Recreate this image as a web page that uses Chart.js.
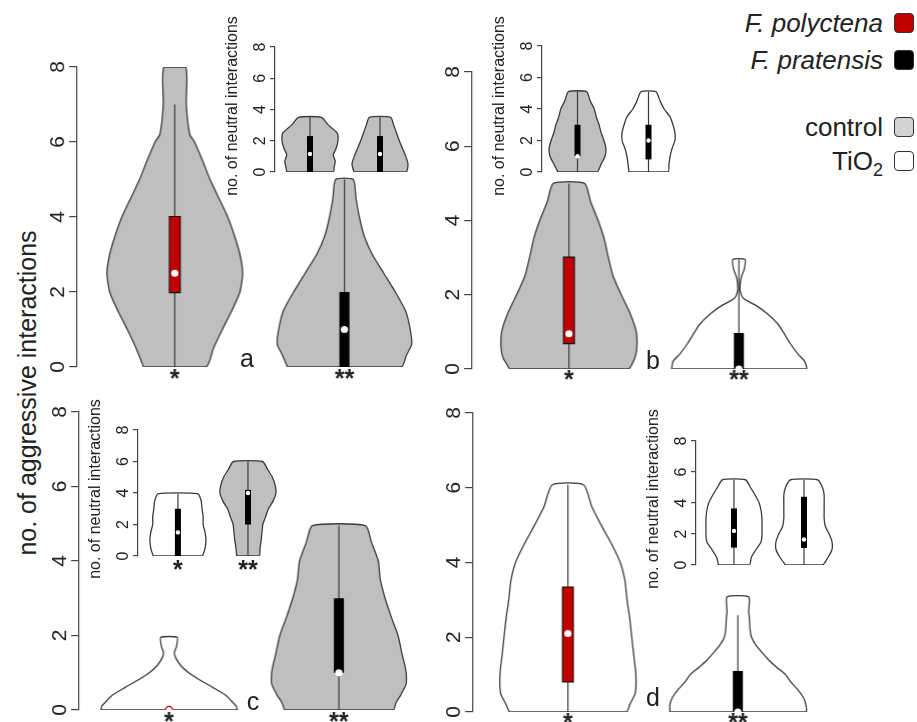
<!DOCTYPE html>
<html>
<head>
<meta charset="utf-8">
<script src="https://cdn.jsdelivr.net/npm/chart.js@4.4.1/dist/chart.umd.min.js"></script>
<style>
body{margin:0;background:#fff;width:917px;height:722px;overflow:hidden;position:relative;font-family:"Liberation Sans",Arial,sans-serif;color:#222}
.lab{position:absolute;white-space:nowrap;transform:translate(-50%,-50%)}
.rot{position:absolute;white-space:nowrap;transform:translate(-50%,-50%) rotate(-90deg)}
.leg{position:absolute;right:34px;font-size:26px;line-height:30px;white-space:nowrap}
.sq{position:absolute;left:894px;width:18px;height:18px;border:1.3px solid #333;border-radius:4px}
</style>
</head>
<body>
<div class="rot" style="left:27px;top:393px;font-size:25px">no. of aggressive interactions</div>
<div id="legend"></div>
<script>
// legend entries
const species = ['F. polyctena', 'F. pratensis'];
const speciesCol = ['#c00000', '#000000'];
const treatments = ['control', 'TiO<sub style="font-size:18px">2</sub>'];
const treatCol = ['#d3d3d3', '#ffffff'];
const panelLetters = ['a', 'b', 'c', 'd'];
const insetTitle = 'no. of neutral interactions';

const GREY = '#bfbfbf', WHITE = '#ffffff', RED = '#c00000', BLACK = '#000000', LINE = '#3a3a3a';

// ---- main plots: count levels and relative violin width (1 = widest) ----
// a: F. polyctena control / F. pratensis control
const a1Lv = [0, 0.5, 1, 1.5, 2, 2.5, 3, 3.5, 4, 4.5, 5, 5.5, 6, 6.2, 7, 8];
const a1W  = [0.46, 0.57, 0.70, 0.84, 0.96, 1.0, 0.96, 0.88, 0.78, 0.65, 0.52, 0.41, 0.29, 0.22, 0.17, 0.16];
const a1Box = [0, 2, 2.5, 4, 7];           // whisker low, q1, median, q3, whisker high
const a2Lv = [0, 0.3, 0.6, 1, 1.5, 2, 2.5, 3, 3.5, 4, 4.5, 5];
const a2W  = [0.84, 0.91, 0.99, 0.97, 0.90, 0.75, 0.58, 0.41, 0.29, 0.22, 0.17, 0.13];
const a2Box = [0, 0, 1, 2, 5];
// b: F. polyctena control / F. pratensis TiO2
const b1Lv = [0, 0.3, 0.6, 1, 1.5, 2, 2.5, 3, 3.5, 4, 4.5, 5];
const b1W  = [0.87, 0.97, 1.0, 0.99, 0.90, 0.77, 0.65, 0.58, 0.52, 0.43, 0.32, 0.23];
const b1Box = [0, 0.7, 0.95, 3, 5];
const b2Lv = [0, 0.2, 0.4, 0.7, 1, 1.2, 1.5, 1.7, 1.9, 2.1, 2.3, 2.5, 2.7, 2.95];
const b2W  = [0.99, 0.97, 0.87, 0.75, 0.65, 0.58, 0.41, 0.26, 0.07, 0.02, 0.02, 0.04, 0.08, 0.09];
const b2Box = [0, 0, 0, 0.97, 2.95];
// c: F. polyctena TiO2 / F. pratensis control
const c1Lv = [0, 0.1, 0.2, 0.4, 0.6, 0.8, 1, 1.2, 1.4, 1.55, 1.7, 1.95];
const c1W  = [1.0, 0.99, 0.94, 0.83, 0.65, 0.46, 0.29, 0.17, 0.10, 0.08, 0.11, 0.12];
const c1Box = [0, 0, 0, 0, 0];
const c2Lv = [0, 0.2, 0.4, 0.7, 1, 1.2, 1.5, 2, 2.5, 3, 3.5, 4, 4.5, 4.95];
const c2W  = [0.80, 0.84, 0.91, 0.99, 0.99, 0.97, 0.93, 0.87, 0.77, 0.68, 0.61, 0.58, 0.48, 0.39];
const c2Box = [0, 1, 1, 3, 4.95];
// d: F. polyctena TiO2 / F. pratensis TiO2
const d1Lv = [0, 0.2, 0.5, 1, 1.5, 2, 2.5, 3, 3.5, 4, 4.5, 5, 5.5, 6.08];
const d1W  = [0.86, 0.91, 0.99, 1.0, 0.97, 0.94, 0.91, 0.87, 0.84, 0.77, 0.64, 0.49, 0.35, 0.23];
const d1Box = [0, 0.82, 2.1, 3.33, 6.08];
const d2Lv = [0, 0.2, 0.4, 0.6, 0.8, 1, 1.2, 1.4, 1.6, 1.8, 2, 2.2, 2.5, 2.7, 3.08];
const d2W  = [1.0, 1.0, 0.96, 0.88, 0.78, 0.70, 0.57, 0.45, 0.35, 0.26, 0.20, 0.18, 0.17, 0.16, 0.16];
const d2Box = [0, 0, 0, 1.1, 2.59];

// ---- insets: no. of neutral interactions ----
const aiLv1 = [0, 0.3, 0.7, 1.1, 1.5, 2, 2.5, 3, 3.5];
const aiW1  = [0.83, 0.86, 0.90, 0.83, 0.93, 1.0, 0.97, 0.66, 0.41];
const aiBox1 = [0, 0, 1.15, 2.3, 3.5];
const aiLv2 = [0, 0.5, 1, 2, 3, 3.5];
const aiW2  = [0.93, 1.0, 0.92, 0.69, 0.49, 0.38];
const aiBox2 = [0, 0, 1.15, 2.3, 3.5];
const biLv = [0, 0.5, 1, 1.5, 2, 2.5, 3, 3.5, 4, 4.5, 5.1];
const biW1 = [0.69, 0.83, 0.97, 1.0, 0.93, 0.83, 0.76, 0.66, 0.59, 0.45, 0.32];
const biBox1 = [0, 1, 1, 3, 5.1];
const biW2 = [0.69, 0.72, 0.76, 0.83, 0.93, 0.93, 0.86, 0.76, 0.55, 0.41, 0.26];
const biBox2 = [0, 0.8, 2, 3, 5.1];
const ciLv1 = [0, 0.1, 0.5, 1, 1.5, 2, 2.5, 3, 3.5, 3.95];
const ciW1  = [0.86, 0.90, 0.97, 1.0, 0.97, 0.90, 0.90, 0.86, 0.83, 0.71];
const ciBox1 = [0, 0, 1.5, 3, 3.95];
const ciLv2 = [0, 0.5, 1, 1.5, 2, 2.5, 3, 3.5, 4, 4.5, 5, 5.5, 6];
const ciW2  = [0.40, 0.43, 0.47, 0.50, 0.53, 0.63, 0.73, 0.90, 1.0, 0.97, 0.87, 0.70, 0.52];
const ciBox2 = [0, 2, 4, 4.2, 6];
const diLv = [0, 0.5, 1, 1.5, 2, 2.5, 3, 3.5, 4, 4.5, 5, 5.5];
const diW1 = [0.55, 0.62, 0.79, 0.97, 1.0, 1.0, 1.0, 0.97, 0.90, 0.76, 0.59, 0.41];
const diBox1 = [0, 1.12, 2.2, 3.65, 5.5];
const diW2 = [0.66, 0.86, 1.0, 1.0, 0.90, 0.76, 0.72, 0.72, 0.72, 0.72, 0.66, 0.48];
const diBox2 = [0, 1.1, 1.65, 4.4, 5.5];

const starLabels = ['*', '**'];
const yTicks = [0, 2, 4, 6, 8];

function violinSets(v, half, bw, r) {
  const left = v.lv.map((y, i) => ({x: v.pos - v.w[i] * half, y: y}));
  const right = v.lv.map((y, i) => ({x: v.pos + v.w[i] * half, y: y})).reverse();
  const sets = [];
  sets.push({data: left.concat(right, [left[0]]), showLine: true, fill: 'shape', backgroundColor: v.fill,
    borderColor: LINE, borderWidth: 1.3, borderJoinStyle: 'round', pointRadius: 0, tension: 0.2, order: 5});
  const [lo, q1, md, q3, hi] = v.st;
  if (hi > lo) sets.push({data: [{x: v.pos, y: lo}, {x: v.pos, y: hi}], showLine: true, borderColor: LINE,
    borderWidth: 1.2, pointRadius: 0, order: 4});
  if (v.box === RED && q3 > q1) sets.push({data: [{x: v.pos, y: q1 - 0.03}, {x: v.pos, y: q3 + 0.03}], showLine: true,
    borderColor: '#111', borderWidth: bw + 2, borderCapStyle: 'butt', pointRadius: 0, order: 3});
  if (q3 > q1) sets.push({data: [{x: v.pos, y: q1}, {x: v.pos, y: q3}], showLine: true, borderColor: v.box,
    borderWidth: bw, borderCapStyle: 'butt', pointRadius: 0, order: 2});
  sets.push({data: [{x: v.pos, y: md}], showLine: false, pointRadius: r, pointBackgroundColor: '#fff',
    pointBorderColor: v.ring || '#fff', pointBorderWidth: v.ring ? 1.3 : 0, order: 1});
  return sets;
}

function panel(p) {
  const wrap = document.createElement('div');
  const w = p.yw + (p.xmax - p.xmin) * p.unit;
  const h = p.top + (p.y0 - p.y8) + p.xh;
  wrap.style.cssText = 'position:absolute;left:' + (p.axisX - p.yw) + 'px;top:' + (p.y8 - p.top) +
    'px;width:' + w + 'px;height:' + h + 'px';
  const cv = document.createElement('canvas');
  wrap.appendChild(cv);
  document.body.appendChild(wrap);
  const inset = !!p.inset;
  if (inset) {
    const t = document.createElement('div');
    t.className = 'rot';
    t.style.cssText = 'left:' + (p.axisX - 43) + 'px;top:' + p.titleY + 'px;font-size:16px';
    t.textContent = insetTitle;
    document.body.appendChild(t);
  }
  let datasets = [];
  p.violins.forEach(v => { datasets = datasets.concat(violinSets(v, 0.4, inset ? 6 : 10, inset ? 2.2 : 3.6)); });
  new Chart(cv, {
    type: 'scatter',
    data: {datasets: datasets},
    options: {
      responsive: true, maintainAspectRatio: false, animation: false,
      layout: {padding: {top: p.top, left: 0, right: 0, bottom: 0}},
      plugins: {legend: {display: false}, tooltip: {enabled: false}},
      scales: {
        x: {
          // the x axis only carries the significance stars; its fitted height is the space below y = 0
          type: 'linear', min: p.xmin, max: p.xmax,
          border: {display: false}, grid: {display: false, drawTicks: false},
          afterBuildTicks: s => { s.ticks = [{value: 1}, {value: 2}]; },
          afterFit: s => { s.height = p.xh; s.paddingLeft = 0; s.paddingRight = 0; },
          ticks: {display: !!p.stars, callback: (val, i) => starLabels[i], autoSkip: false, maxRotation: 0,
            padding: p.starPad || 0, color: '#222', font: {size: 25, weight: 'bold', family: 'Liberation Sans'}}
        },
        y: {
          min: 0, max: 8,
          afterBuildTicks: s => { s.ticks = yTicks.map(t => ({value: t})); },
          afterFit: s => { s.width = p.yw; s.paddingTop = 0; s.paddingBottom = 0; },
          border: {color: '#444', width: 1.2},
          grid: {drawOnChartArea: false, tickLength: inset ? 5 : 8, color: '#444', lineWidth: 1.2},
          ticks: {minRotation: 90, maxRotation: 90, crossAlign: 'center', padding: 5,
            color: '#222', font: {size: inset ? 16 : 21, family: 'Liberation Sans'}}
        }
      }
    }
  });
}

const V = (pos, lv, w, st, fill, box, ring) => ({pos, lv, w, st, fill, box, ring});

// main panels
panel({axisX: 77, y8: 67, y0: 367, xmin: 0.424, xmax: 2.55, unit: 172, yw: 40, top: 12, xh: 22, stars: true, starPad: -2,
  violins: [V(1, a1Lv, a1W, a1Box, GREY, RED), V(2, a2Lv, a2W, a2Box, GREY, BLACK)]});
panel({axisX: 472, y8: 72, y0: 369, xmin: 0.43, xmax: 2.9, unit: 172, yw: 40, top: 12, xh: 22, stars: true, starPad: -3,
  violins: [V(1, b1Lv, b1W, b1Box, GREY, RED), V(2, b2Lv, b2W, b2Box, WHITE, BLACK)]});
panel({axisX: 79, y8: 412, y0: 710, xmin: 0.471, xmax: 2.55, unit: 172, yw: 40, top: 12, xh: 14, stars: true, starPad: -2,
  violins: [V(1, c1Lv, c1W, c1Box, WHITE, RED, RED), V(2, c2Lv, c2W, c2Box, GREY, BLACK)]});
panel({axisX: 473, y8: 413, y0: 712, xmin: 0.442, xmax: 2.9, unit: 172, yw: 40, top: 12, xh: 12, stars: true, starPad: -3,
  violins: [V(1, d1Lv, d1W, d1Box, WHITE, RED), V(2, d2Lv, d2W, d2Box, WHITE, BLACK)]});

// insets
panel({axisX: 275, y8: 47, y0: 172, xmin: 0.5, xmax: 2.5, unit: 72, yw: 30, top: 12, xh: 10, inset: true, titleY: 106,
  violins: [V(1, aiLv1, aiW1, aiBox1, GREY, BLACK), V(2, aiLv2, aiW2, aiBox2, GREY, BLACK)]});
panel({axisX: 542, y8: 46, y0: 172, xmin: 0.5, xmax: 2.5, unit: 73, yw: 30, top: 12, xh: 10, inset: true, titleY: 106,
  violins: [V(1, biLv, biW1, biBox1, GREY, BLACK), V(2, biLv, biW2, biBox2, WHITE, BLACK)]});
panel({axisX: 138, y8: 430, y0: 556, xmin: 0.43, xmax: 2.5, unit: 72, yw: 30, top: 12, xh: 24, inset: true, titleY: 489,
  stars: true, starPad: 0,
  violins: [V(1, ciLv1, ciW1, ciBox1, WHITE, BLACK), V(2, ciLv2, ciW2, ciBox2, GREY, BLACK)]});
panel({axisX: 696, y8: 441, y0: 565, xmin: 0.458, xmax: 2.5, unit: 72, yw: 30, top: 12, xh: 10, inset: true, titleY: 499,
  violins: [V(1, diLv, diW1, diBox1, WHITE, BLACK), V(2, diLv, diW2, diBox2, WHITE, BLACK)]});

// panel letters
const letterPos = [[247, 358], [653, 360], [253, 701], [653, 697]];
panelLetters.forEach((t, i) => {
  const d = document.createElement('div');
  d.className = 'lab';
  d.style.cssText = 'left:' + letterPos[i][0] + 'px;top:' + letterPos[i][1] + 'px;font-size:25px';
  d.textContent = t;
  document.body.appendChild(d);
});

// legend
const legRows = [[species[0], speciesCol[0], 23, true], [species[1], speciesCol[1], 60, true],
  [treatments[0], treatCol[0], 127, false], [treatments[1], treatCol[1], 161, false]];
const leg = document.getElementById('legend');
legRows.forEach(r => {
  const t = document.createElement('div');
  t.className = 'leg';
  t.style.top = (r[2] - 15) + 'px';
  if (r[3]) t.style.fontStyle = 'italic';
  t.innerHTML = r[0];
  leg.appendChild(t);
  const s = document.createElement('div');
  s.className = 'sq';
  s.style.top = (r[2] - 10) + 'px';
  s.style.background = r[1];
  leg.appendChild(s);
});
</script>
</body>
</html>
